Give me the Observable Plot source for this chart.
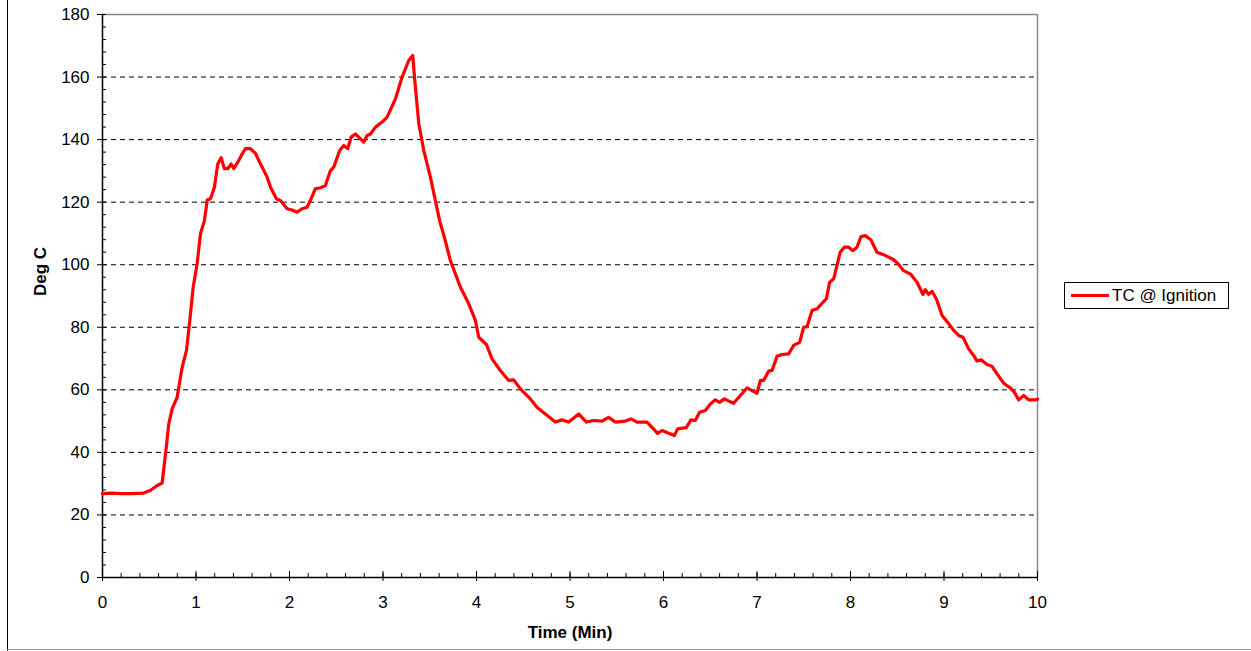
<!DOCTYPE html>
<html>
<head>
<meta charset="utf-8">
<script src="https://cdn.jsdelivr.net/npm/d3@7"></script>
<script src="https://cdn.jsdelivr.net/npm/@observablehq/plot@0.6"></script>
<style>
  html, body { margin: 0; padding: 0; background: #fff; }
  #wrap { position: relative; width: 1251px; height: 651px; overflow: hidden; font-family: "Liberation Sans", Arial, sans-serif; }
  #frameL { position: absolute; left: 7px; top: 0; width: 1px; height: 651px; background: #000; }
  #frameB { position: absolute; left: 7px; top: 649px; width: 1244px; height: 1px; background: #999; }
  #legend { position: absolute; left: 1064px; top: 282px; width: 163px; height: 25px; border: 1px solid #000; background: #fff; box-sizing: content-box; }
  #legend .sw { position: absolute; left: 6px; top: 11px; width: 38px; height: 3px; background: #ff0000; }
  #legend .lb { position: absolute; left: 47px; top: 3px; font-size: 17px; line-height: 19px; color: #000; white-space: nowrap; }
</style>
</head>
<body>
<div id="wrap">
  <div id="chart"></div>
  <div id="frameL"></div>
  <div id="frameB"></div>
  <div id="legend"><div class="sw"></div><div class="lb">TC @ Ignition</div></div>
</div>
<script>
const seriesName = "TC @ Ignition";
const timeMin = [0.00,0.10,0.20,0.30,0.44,0.51,0.585,0.638,0.674,0.709,0.745,0.798,0.852,0.898,0.934,0.97,1.012,1.048,1.09,1.12,1.155,1.197,1.233,1.269,1.304,1.34,1.376,1.404,1.457,1.493,1.529,1.582,1.636,1.69,1.761,1.797,1.86,1.903,1.975,2.028,2.082,2.135,2.189,2.232,2.277,2.331,2.384,2.438,2.473,2.537,2.58,2.623,2.659,2.705,2.741,2.794,2.83,2.866,2.919,2.99,3.044,3.133,3.204,3.275,3.318,3.34,3.383,3.436,3.507,3.56,3.606,3.656,3.721,3.828,3.917,3.988,4.024,4.106,4.166,4.255,4.344,4.398,4.469,4.576,4.647,4.736,4.843,4.915,4.986,5.093,5.175,5.253,5.342,5.413,5.485,5.592,5.652,5.717,5.824,5.937,5.984,6.055,6.116,6.151,6.244,6.294,6.34,6.386,6.447,6.501,6.554,6.6,6.65,6.75,6.822,6.893,7.0,7.036,7.071,7.125,7.161,7.214,7.268,7.339,7.392,7.456,7.499,7.535,7.589,7.642,7.696,7.741,7.777,7.82,7.855,7.89,7.933,7.98,8.026,8.069,8.112,8.158,8.219,8.283,8.347,8.397,8.461,8.515,8.568,8.647,8.711,8.775,8.8,8.836,8.872,8.918,8.979,9.039,9.103,9.157,9.203,9.264,9.317,9.353,9.396,9.46,9.514,9.567,9.639,9.71,9.753,9.799,9.853,9.906,9.978,10.0];
const tempC = [26.8,27.0,26.8,26.8,27.0,27.8,29.4,30.2,39.5,49.1,53.9,57.6,67.2,72.6,82.2,92.8,100.3,109.9,114.1,120.7,121.1,124.8,132.2,134.2,130.7,130.7,132.2,130.7,133.3,135.4,137.1,137.1,135.6,132.2,128.0,124.8,121.1,120.5,117.9,117.5,116.8,117.9,118.4,121.1,124.3,124.6,125.3,130.1,131.2,136.5,138.1,137.1,140.8,141.8,140.8,139.2,141.3,141.8,144.0,145.6,147.2,153.0,160.0,165.3,166.9,158.9,145.0,136.5,128.0,120.5,114.1,108.8,101.3,92.8,87.5,82.2,76.8,74.5,69.9,66.2,63.0,63.2,60.3,57.1,54.4,52.3,49.7,50.4,49.7,52.3,49.7,50.2,50.0,51.2,49.7,50.0,50.7,49.7,49.7,46.1,47.0,46.1,45.4,47.5,47.9,50.4,50.2,52.8,53.4,55.5,56.8,56.0,57.1,55.7,58.2,60.6,58.9,63.0,63.0,66.0,66.2,70.7,71.3,71.5,74.2,75.2,80.0,80.2,85.4,85.9,87.7,89.1,94.4,95.5,99.7,104.0,105.6,105.6,104.5,105.6,109.0,109.3,107.9,104.0,103.3,102.6,101.6,100.1,98.1,96.9,94.4,90.5,92.0,90.5,91.5,89.1,83.8,81.6,79.0,77.4,76.8,73.1,71.0,69.2,69.6,68.1,67.5,65.1,62.1,60.6,59.2,56.8,58.2,56.8,56.8,57.0];
const yMajor = [0,20,40,60,80,100,120,140,160,180];
const yGrid = [20,40,60,80,100,120,140,160];
const yMinor = d3.range(0, 181, 4);
const xMajor = [0,1,2,3,4,5,6,7,8,9,10];
const xMinor = d3.range(0, 10.001, 0.2).map(v => +v.toFixed(1));
const xTitle = "Time (Min)";
const yTitle = "Deg C";

const data = timeMin.map((t, i) => ({t, v: tempC[i]}));

const chart = Plot.plot({
  width: 1251,
  height: 651,
  marginLeft: 102,
  marginRight: 214,
  marginTop: 14,
  marginBottom: 74,
  style: {fontFamily: "'Liberation Sans', Arial, sans-serif", fontSize: "17px", color: "#000", background: "transparent"},
  x: {domain: [0, 10], axis: null, label: null},
  y: {domain: [0, 180], axis: null, label: null},
  marks: [
    Plot.ruleY(yGrid, {stroke: "#000", strokeWidth: 1, strokeDasharray: "5,4"}),
    Plot.ruleY([180], {stroke: "#888", strokeWidth: 1.5}),
    Plot.ruleX([10], {stroke: "#888", strokeWidth: 1.5}),
    Plot.axisY(yMinor, {anchor: "left", tickSize: -4, text: null, stroke: "#000", label: null}),
    Plot.axisY(yMajor, {anchor: "left", tickSize: 5, tickPadding: 8, fontSize: 17, stroke: "#000", label: null}),
    Plot.axisX(xMinor, {anchor: "bottom", tickSize: -4, text: null, stroke: "#000", label: null}),
    Plot.axisX(xMajor, {anchor: "bottom", tickSize: -6, text: null, stroke: "#000", label: null}),
    Plot.axisX(xMajor, {anchor: "bottom", tickSize: 4, tickPadding: 14, fontSize: 17, stroke: "#000", label: null}),
    Plot.ruleX([0], {stroke: "#000", strokeWidth: 1.5}),
    Plot.ruleY([0], {stroke: "#000", strokeWidth: 1.5}),
    Plot.line(data, {x: "t", y: "v", stroke: "#ff0000", strokeWidth: 3.2, strokeLinejoin: "round", strokeLinecap: "round"}),
    Plot.text([yTitle], {frameAnchor: "left", dx: -62, rotate: -90, fontWeight: "bold", fontSize: 17, fill: "#000"}),
    Plot.text([xTitle], {frameAnchor: "bottom", dy: 60, fontWeight: "bold", fontSize: 17, fill: "#000"})
  ]
});
document.getElementById("chart").appendChild(chart);
</script>
</body>
</html>
